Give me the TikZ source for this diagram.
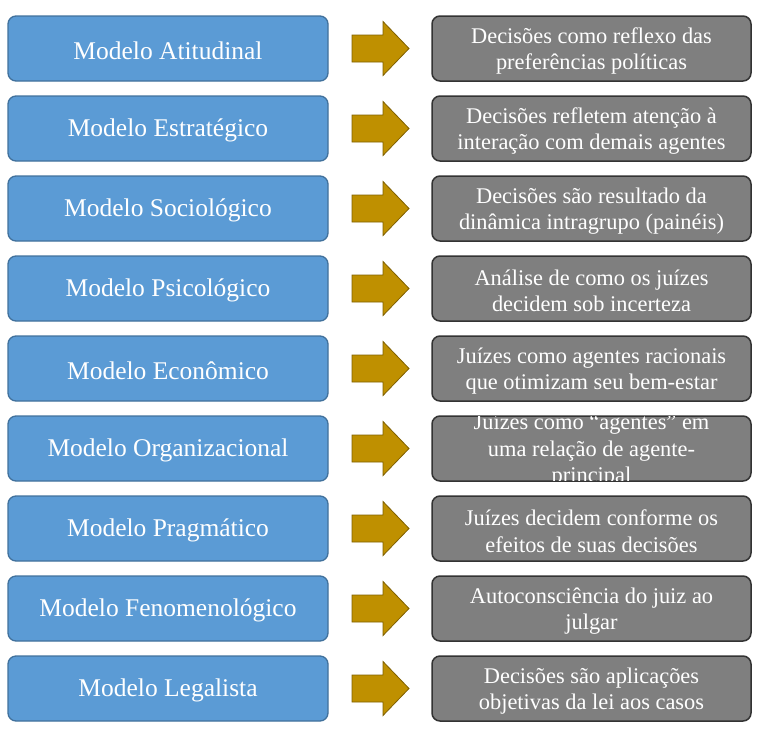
\documentclass[tikz,border=0pt]{standalone}
\usepackage{fontspec}
\setmainfont{Liberation Serif}
\definecolor{bluefill}{HTML}{5B9BD5}
\definecolor{blueline}{HTML}{41719C}
\definecolor{grayfill}{HTML}{7F7F7F}
\definecolor{grayline}{HTML}{333333}
\definecolor{goldfill}{HTML}{BF9000}
\definecolor{goldline}{HTML}{7F6000}
\tikzset{
  lbox/.style={draw=blueline, fill=bluefill, line width=1.3pt, rounded corners=8pt,
    minimum width=320pt, minimum height=65pt, inner sep=0pt},
  ltext/.style={text=white, inner sep=0pt, font=\fontsize{25.5}{30}\selectfont},
  rbox/.style={draw=grayline, fill=grayfill, line width=1.5pt, rounded corners=8pt,
    minimum width=319pt, minimum height=65pt, inner sep=0pt},
  rtext/.style={text=white, align=center, inner sep=0pt,
    font=\fontsize{22.4}{26.5}\selectfont},
  garrow/.style={draw=goldline, fill=goldfill, line width=0.8pt, line join=miter},
}
\begin{document}
\begin{tikzpicture}[x=1pt, y={(0pt,-1pt)}]
\useasboundingbox (0,0) rectangle (757,731);
\foreach \i/\lt/\rt in {
  0/{Modelo Atitudinal}/{Decisões como reflexo das\\preferências políticas},
  1/{Modelo Estratégico}/{Decisões refletem atenção à\\interação com demais agentes},
  2/{Modelo Sociológico}/{Decisões são resultado da\\dinâmica intragrupo (painéis)},
  3/{Modelo Psicológico}/{Análise de como os juízes\\decidem sob incerteza},
  4/{Modelo Econômico}/{Juízes como agentes racionais\\que otimizam seu bem-estar},
  5/{Modelo Organizacional}/{Juízes como “agentes” em\\uma relação de agente-\\principal},
  6/{Modelo Pragmático}/{Juízes decidem conforme os\\efeitos de suas decisões},
  7/{Modelo Fenomenológico}/{Autoconsciência do juiz ao\\julgar},
  8/{Modelo Legalista}/{Decisões são aplicações\\objetivas da lei aos casos}}
{
  \pgfmathsetmacro{\c}{48.5+80*\i}
  \node[lbox] (l\i) at (168,\c) {};
  \node[ltext] (s\i) at (168,\c+2) {\lt};
  \node[rbox] (r\i) at (591.5,\c) {};
  \begin{scope}
    \clip (432.75,\c-31.75) rectangle (750.25,\c+31.75);
    \node[rtext] (t\i) at (591.5,\c+2.5) {\rt};
  \end{scope}
  \coordinate (a\i) at (352,\c);
  \draw[garrow] (a\i) ++(0,-13.5) -- ++(31,0) -- ++(0,-13.5) -- ++(26,27)
    -- ++(-26,27) -- ++(0,-13.5) -- ++(-31,0) -- cycle;
}
\end{tikzpicture}
\end{document}
